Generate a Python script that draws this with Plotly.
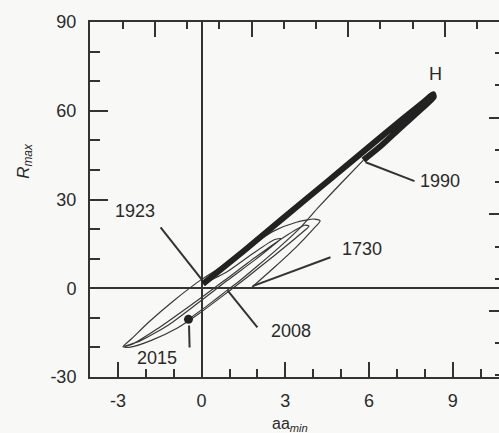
import plotly.graph_objects as go

# Trajectory of R_max against aa_min in time order.
# 1730 -> 1923: thin spiralling loops
early_aa = [1.80, 2.60, 3.40, 4.00, 4.25, 4.05, 3.40, 2.60, 1.60, 0.70, 0.00, -1.00,
            -1.90, -2.50, -2.82, -2.55, -1.80, -0.90, -0.10, 0.70, 1.60, 2.60, 3.50,
            3.85, 3.70, 3.10, 2.00, 0.80, -0.50, -1.60, -2.50, -2.75, -2.20, -1.20,
            -0.20, 0.90, 1.90, 2.60, 2.85, 2.60, 1.80, 0.90, 0.05]
early_r = [0.3, 7.0, 14.0, 20.0, 22.8, 23.4, 22.3, 19.4, 13.4, 7.2, 3.0, -4.2,
           -11.5, -17.0, -19.8, -19.9, -17.6, -13.6, -8.6, -3.0, 3.5, 11.0, 18.0,
           21.0, 21.3, 18.2, 11.0, 2.5, -6.5, -13.8, -19.0, -19.6, -17.8, -12.5,
           -5.5, 2.5, 9.5, 14.8, 16.8, 16.4, 11.5, 5.5, 1.5]

# 1923 -> 1990: heavy excursion up to H and back
heavy_aa = [0.05, 1.50, 3.00, 4.50, 6.00, 7.20, 8.00, 8.30, 8.32, 7.90, 7.10, 6.40, 5.80]
heavy_r = [1.5, 12.5, 24.3, 36.0, 47.8, 57.2, 63.3, 65.6, 64.6, 60.8, 54.0, 47.9, 43.3]

# 1990 -> 2015: thin descent
late_aa = [5.80, 5.00, 4.20, 3.55, 2.80, 2.00, 1.30, 0.90, 0.30, -0.47]
late_r = [43.3, 35.5, 27.5, 20.6, 14.0, 7.5, 2.0, -0.8, -5.2, -10.5]

# Present-day point
now_aa = [-0.47]
now_r = [-10.5]

# Year labels, their text positions and leader lines (from curve to label)
year_labels = ["1730", "1923", "1990", "2008", "2015"]
label_aa = [5.75, -2.40, 8.55, 3.20, -1.60]
label_r = [13.4, 26.0, 36.3, -14.6, -23.7]
lead_from_aa = [1.83, 0.00, 5.88, 0.93, -0.45]
lead_from_r = [0.7, 3.0, 42.6, -0.7, -12.6]
lead_to_aa = [4.62, -1.47, 7.63, 2.00, -0.43]
lead_to_r = [10.5, 20.6, 36.2, -13.2, -20.0]

peak_label = "H"
peak_aa, peak_r = 8.40, 72.4

# Axis ticks
x_tick_vals = [-3, 0, 3, 6, 9]
x_tick_text = ["-3", "0", "3", "6", "9"]
y_tick_vals = [-30, 0, 30, 60, 90]
y_tick_text = ["-30", "0", "30", "60", "90"]

INK = "#333333"
TEXT = "#2a2a2a"
BG = "#f8f8f6"
FONT = "Liberation Sans"

fig = go.Figure()

fig.add_trace(go.Scatter(x=early_aa, y=early_r, mode="lines",
                         line=dict(color="#383838", width=1.2, shape="spline", smoothing=0.6),
                         hoverinfo="skip", showlegend=False))
fig.add_trace(go.Scatter(x=heavy_aa, y=heavy_r, mode="lines",
                         line=dict(color="#222222", width=6, shape="spline", smoothing=0.5),
                         hoverinfo="skip", showlegend=False))
fig.add_trace(go.Scatter(x=late_aa, y=late_r, mode="lines",
                         line=dict(color="#383838", width=1.2, shape="spline", smoothing=0.5),
                         hoverinfo="skip", showlegend=False))
fig.add_trace(go.Scatter(x=now_aa, y=now_r, mode="markers",
                         marker=dict(color="#222222", size=9),
                         hoverinfo="skip", showlegend=False))
# empty trace that binds the secondary frame scales (top / right) so they are drawn
fig.add_trace(go.Scatter(x=[], y=[], xaxis="x2", yaxis="y2", mode="lines",
                         hoverinfo="skip", showlegend=False))

# Leader lines
for fa, fr, ta, tr in zip(lead_from_aa, lead_from_r, lead_to_aa, lead_to_r):
    fig.add_shape(type="line", x0=fa, y0=fr, x1=ta, y1=tr, xref="x", yref="y",
                  line=dict(color=INK, width=2))

# Year labels
for txt, a, r in zip(year_labels, label_aa, label_r):
    fig.add_annotation(x=a, y=r, xref="x", yref="y", text=txt, showarrow=False,
                       font=dict(family=FONT, size=18, color=TEXT))
fig.add_annotation(x=peak_aa, y=peak_r, xref="x", yref="y", text=peak_label,
                   showarrow=False, font=dict(family=FONT, size=18, color=TEXT))

# Axis titles
fig.add_annotation(x=0.49, y=-0.133, xref="paper", yref="paper",
                   xanchor="center", yanchor="middle",
                   text="aa<sub><i>min</i></sub>", showarrow=False,
                   font=dict(family=FONT, size=16, color=TEXT))
fig.add_annotation(x=-0.158, y=0.61, xref="paper", yref="paper",
                   xanchor="center", yanchor="middle",
                   text="<i>R</i><sub><i>max</i></sub>", showarrow=False, textangle=-90,
                   font=dict(family=FONT, size=17, color=TEXT))

fig.update_layout(
    width=499, height=433,
    margin=dict(l=90, r=0, t=22, b=56),
    paper_bgcolor=BG, plot_bgcolor=BG,
    font=dict(family=FONT, size=18, color=TEXT),
    xaxis=dict(range=[-4, 10.66], tickvals=x_tick_vals, ticktext=x_tick_text,
               ticks="inside", ticklen=15, tickwidth=2, tickcolor=INK,
               minor=dict(dtick=1, tick0=0, ticks="inside", ticklen=8, tickwidth=2,
                          tickcolor=INK, showgrid=False),
               showline=True, linecolor=INK, linewidth=2, showgrid=False,
               zeroline=True, zerolinecolor=INK, zerolinewidth=1.5,
               ticklabelstandoff=6, tickfont=dict(size=18)),
    yaxis=dict(range=[-30, 90], tickvals=y_tick_vals, ticktext=y_tick_text,
               ticks="inside", ticklen=18, tickwidth=2, tickcolor=INK,
               minor=dict(dtick=10, tick0=0, ticks="inside", ticklen=10, tickwidth=2,
                          tickcolor=INK, showgrid=False),
               showline=True, linecolor=INK, linewidth=2, showgrid=False,
               zeroline=True, zerolinecolor=INK, zerolinewidth=1.5,
               ticklabelstandoff=8, tickfont=dict(size=18)),
    # secondary scales along the top and right frame (ticks only)
    xaxis2=dict(overlaying="x", side="top", anchor="y2", range=[-2.02, 10.68],
                dtick=3, tick0=0, ticks="inside", ticklen=15, tickwidth=2, tickcolor=INK,
                minor=dict(dtick=1, ticks="inside", ticklen=7, tickwidth=2, tickcolor=INK),
                showline=True, linecolor=INK, linewidth=2, showgrid=False,
                zeroline=False, showticklabels=False),
    yaxis2=dict(overlaying="y", side="right", anchor="x2", range=[-2.05, 8.97],
                dtick=3, tick0=0, ticks="inside", ticklen=10, tickwidth=2, tickcolor=INK,
                minor=dict(dtick=1, ticks="inside", ticklen=4, tickwidth=2, tickcolor=INK),
                showline=False, showgrid=False, zeroline=False, showticklabels=False),
)

fig.write_html("out.html")
